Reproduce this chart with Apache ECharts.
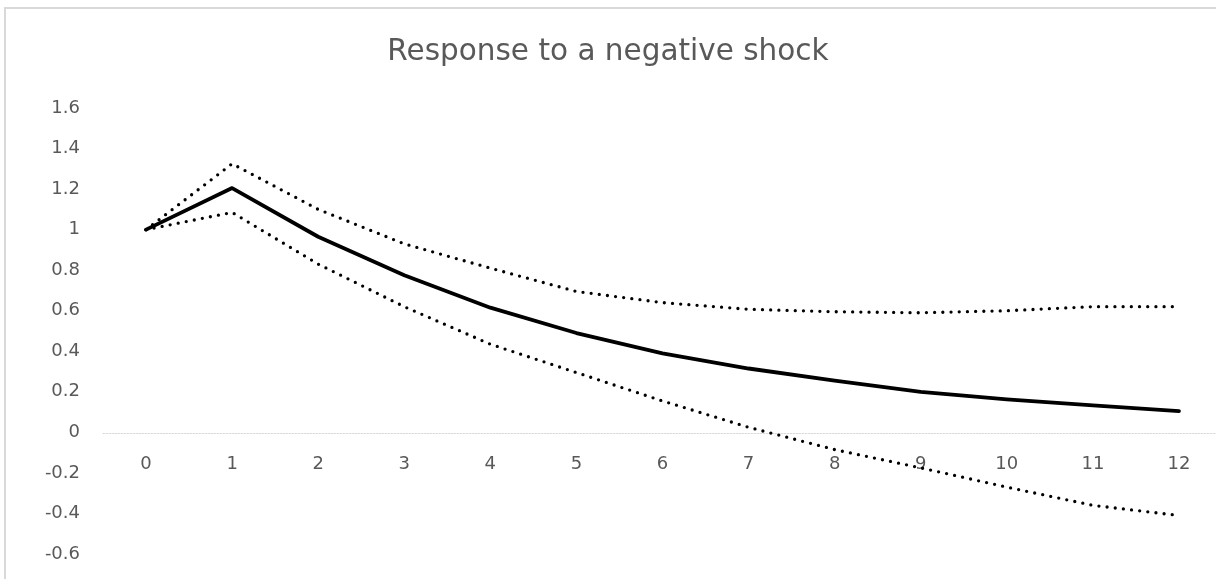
<!DOCTYPE html>
<html>
<head>
<meta charset="utf-8">
<script src="https://cdn.jsdelivr.net/npm/echarts@6/dist/echarts.min.js"></script>
<style>
html,body{margin:0;padding:0;background:#fff;}
#c{width:1216px;height:579px;}
</style>
</head>
<body>
<div id="c"></div>
<script>
const categories = ['0','1','2','3','4','5','6','7','8','9','10','11','12'];
const response = [1.0, 1.205, 0.965, 0.775, 0.615, 0.49, 0.39, 0.315, 0.255, 0.2, 0.163, 0.133, 0.105];
const upperBand = [1.0, 1.325, 1.1, 0.93, 0.81, 0.695, 0.64, 0.607, 0.595, 0.59, 0.6, 0.62, 0.62];
const lowerBand = [1.0, 1.085, 0.83, 0.62, 0.435, 0.295, 0.155, 0.025, -0.085, -0.175, -0.27, -0.36, -0.41];
const yTicks = [-0.6, -0.4, -0.2, 0, 0.2, 0.4, 0.6, 0.8, 1, 1.2, 1.4, 1.6];

const chart = echarts.init(document.getElementById('c'), null, {renderer:'canvas'});
const dotted = {color:'#000', width:3.3, type:[0,8.2], cap:'round'};
const FONT = 'DejaVu Sans';
chart.setOption({
  animation:false,
  backgroundColor:'#fff',
  graphic:[{type:'rect', shape:{x:5, y:8, width:1400, height:800}, style:{fill:null, stroke:'#d9d9d9', lineWidth:2}, silent:true}],
  title:{text:'Response to a negative shock', left:'center', top:32,
    textStyle:{fontFamily:FONT, fontSize:29.5, fontWeight:'normal', color:'#595959'}},
  grid:{left:103, top:108, width:1119, height:446, containLabel:false, outerBoundsMode:'none'},
  xAxis:{type:'category', data:categories, boundaryGap:true, position:'bottom', offset:-121,
    axisLine:{show:true, onZero:false, lineStyle:{color:'#d9d9d9', width:1, type:[1.5,1.5]}},
    axisTick:{show:false},
    axisLabel:{color:'#595959', fontFamily:FONT, fontSize:18, margin:22},
    splitLine:{show:false}},
  yAxis:{type:'value', min:-0.6, max:1.6, interval:0.2,
    axisLine:{show:false}, axisTick:{show:false}, splitLine:{show:false},
    axisLabel:{color:'#595959', fontFamily:FONT, fontSize:18, margin:23,
      formatter:function(v){ const r=Math.round(v*10)/10; return yTicks.indexOf(r)>=0 ? String(r) : ''; }}},
  series:[
    {type:'line', data:upperBand, symbol:'none', lineStyle:dotted, z:2},
    {type:'line', data:lowerBand, symbol:'none', lineStyle:dotted, z:2},
    {type:'line', data:response, symbol:'none', lineStyle:{color:'#000', width:3.8, cap:'round', join:'round'}, z:3}
  ]
});
</script>
</body>
</html>
